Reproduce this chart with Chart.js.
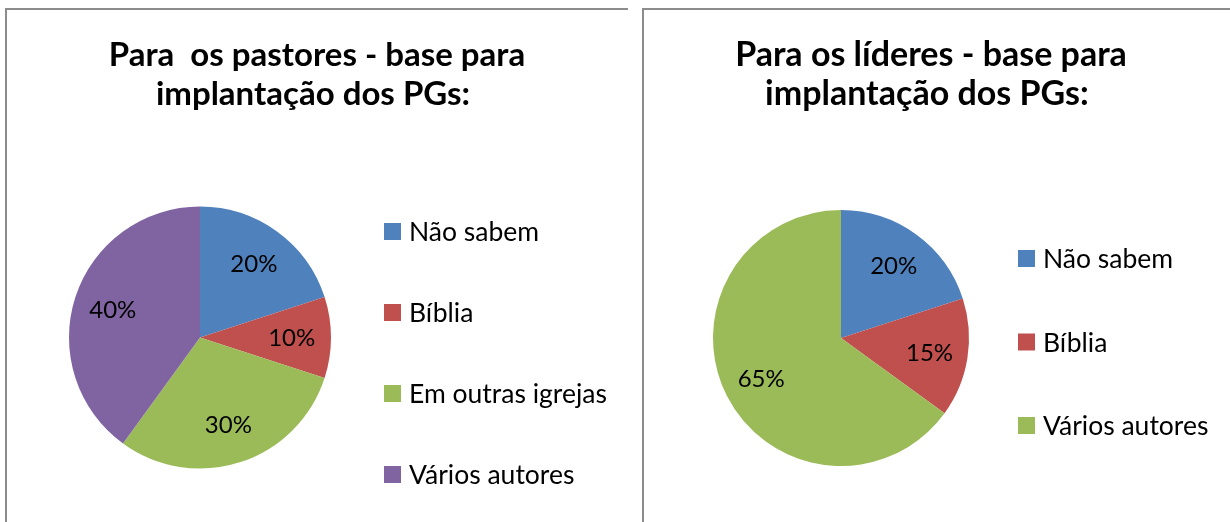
<!DOCTYPE html>
<html><head><meta charset="utf-8">
<script src="https://cdn.jsdelivr.net/npm/chart.js@4.4.1/dist/chart.umd.min.js"></script>
<style>
html,body{margin:0;padding:0;background:#fff;width:1230px;height:522px;overflow:hidden;position:relative}
.frame{position:absolute;border-top:2px solid #8c8c8c;border-left:2px solid #8c8c8c}
#f1{left:5px;top:8px;width:621px;height:600px}
#f2{left:642px;top:8px;width:600px;height:600px}
canvas{position:absolute;top:0}
#c1{left:0}
#c2{left:640px}
</style></head><body>
<div class="frame" id="f1"></div><div class="frame" id="f2"></div>
<canvas id="c1" width="640" height="600"></canvas>
<canvas id="c2" width="600" height="600"></canvas>
<script>
// ---- data ----
const pastoresTitle = ['Para  os pastores - base para', 'implantação dos PGs: '];
const pastoresLabels = ['Não sabem', 'Bíblia', 'Em outras igrejas', 'Vários autores'];
const pastoresValues = [20, 10, 30, 40];

const lideresTitle = ['Para os líderes - base para', 'implantação dos PGs: '];
const lideresLabels = ['Não sabem', 'Bíblia', 'Vários autores'];
const lideresValues = [20, 15, 65];

// ---- styles ----
const pastoresColors = ['#4F81BD', '#C0504D', '#9BBB59', '#8064A2'];
const lideresColors = ['#4F81BD', '#C0504D', '#9BBB59'];
const FONT = 'Lato, "Open Sans", sans-serif';

const decorPlugin = {
  id: 'decor',
  afterDatasetsDraw(chart, args, opts) {
    const ctx = chart.ctx;
    ctx.save();
    ctx.fillStyle = '#000';
    ctx.textBaseline = 'alphabetic';
    // title
    ctx.font = 'bold ' + opts.titleSize + 'px ' + FONT;
    ctx.textAlign = 'center';
    opts.title.forEach((t, i) => ctx.fillText(t, opts.titleX, opts.titleBaselines[i]));
    // percentage labels
    const meta = chart.getDatasetMeta(0);
    const data = chart.data.datasets[0].data;
    const total = data.reduce((a, b) => a + b, 0);
    ctx.font = opts.labelSize + 'px ' + FONT;
    meta.data.forEach((arc, i) => {
      const p = arc.getProps(['x', 'y', 'startAngle', 'endAngle', 'outerRadius'], true);
      const mid = (p.startAngle + p.endAngle) / 2;
      const r = p.outerRadius * opts.labelRadius;
      const x = p.x + Math.cos(mid) * r;
      const y = p.y + Math.sin(mid) * r;
      ctx.fillText(Math.round(data[i] / total * 100) + '%', x, y + opts.labelSize * 0.36);
    });
    // legend
    ctx.textAlign = 'left';
    ctx.font = opts.legendSize + 'px ' + FONT;
    chart.data.labels.forEach((lab, i) => {
      const top = opts.legendTop + i * opts.legendStep;
      ctx.fillStyle = chart.data.datasets[0].backgroundColor[i];
      ctx.fillRect(opts.legendX, top, 17, 17);
      ctx.fillStyle = '#000';
      ctx.fillText(lab, opts.legendX + 25, top + 18);
    });
    ctx.restore();
  }
};

function makePie(id, labels, values, colors, padding, decor) {
  return new Chart(document.getElementById(id), {
    type: 'pie',
    data: {
      labels: labels,
      datasets: [{
        data: values,
        backgroundColor: colors,
        borderWidth: 0,
        offset: 0,
        hoverOffset: 0
      }]
    },
    options: {
      responsive: false,
      animation: false,
      events: [],
      rotation: 0,
      layout: { padding: padding },
      plugins: {
        legend: { display: false },
        title: { display: false },
        tooltip: { enabled: false },
        decor: decor
      }
    },
    plugins: [decorPlugin]
  });
}

function build() {
  makePie('c1', pastoresLabels, pastoresValues, pastoresColors,
    { left: 69, top: 206.5, right: 309, bottom: 131.5 },
    { title: pastoresTitle, titleX: 317, titleBaselines: [66, 105], titleSize: 33,
      labelSize: 24, labelRadius: 0.70,
      legendSize: 26.5, legendX: 384, legendTop: 223, legendStep: 81 });
  makePie('c2', lideresLabels, lideresValues, lideresColors,
    { left: 73, top: 210, right: 271, bottom: 134 },
    { title: lideresTitle, titleX: 291, titleBaselines: [66, 105], titleSize: 34,
      labelSize: 24, labelRadius: 0.70,
      legendSize: 26.5, legendX: 378, legendTop: 250, legendStep: 83.5 });
}

Promise.all([
  document.fonts.load('bold 33px Lato'),
  document.fonts.load('bold 34px Lato'),
  document.fonts.load('24px Lato'),
  document.fonts.load('26.5px Lato')
]).then(build, build);
</script>
</body></html>
